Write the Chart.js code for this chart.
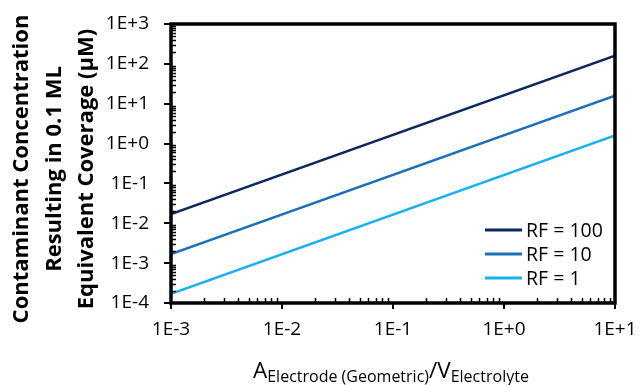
<!DOCTYPE html>
<html>
<head>
<meta charset="utf-8">
<script src="https://cdn.jsdelivr.net/npm/chart.js@4.4.1/dist/chart.umd.min.js"></script>
<style>
  html, body { margin:0; padding:0; background:#fff; }
  #wrap { width:641px; height:385px; position:relative; }
</style>
</head>
<body>
<div id="wrap"><canvas id="rfChart"></canvas></div>
<script>
// area / volume ratio at both ends of each line
const ratio = [1e-3, 1e1];
const rf100 = [0.017, 160];
const rf10  = [0.0017, 16];
const rf1   = [0.00017, 1.6];

const seriesLabels = ['RF = 100', 'RF = 10', 'RF = 1'];
const seriesColors = ['#0e2a5c', '#1b70b9', '#17b2ee'];

const xTicks = [1e-3, 1e-2, 1e-1, 1e0, 1e1];
const yTicks = [1e-4, 1e-3, 1e-2, 1e-1, 1e0, 1e1, 1e2, 1e3];

const yTitle = ['Contaminant Concentration', 'Resulting in 0.1 ML', 'Equivalent Coverage (\u00b5M)'];

const FONT = '"Open Sans", sans-serif';

function toPts(ys){ return ratio.map((x,i) => ({ x:x, y:ys[i] })); }
function sci(v){ return Number(v).toExponential(0).toUpperCase(); }

// frame, log ticks, legend and titles
const decor = {
  id:'decor',
  afterDatasetsDraw(chart){
    const ctx = chart.ctx;
    const a = chart.chartArea;
    const sx = chart.scales.x, sy = chart.scales.y;
    ctx.save();
    ctx.strokeStyle = '#000';

    // minor ticks inside, major ticks outside
    ctx.lineWidth = 1.5;
    ctx.beginPath();
    for (let i = 0; i < xTicks.length - 1; i++){
      for (let k = 2; k <= 9; k++){
        const px = Math.round(sx.getPixelForValue(k * xTicks[i])) + 0.5;
        ctx.moveTo(px, a.bottom); ctx.lineTo(px, a.bottom - 5);
      }
    }
    for (let i = 0; i < yTicks.length - 1; i++){
      for (let k = 2; k <= 9; k++){
        const py = Math.round(sy.getPixelForValue(k * yTicks[i])) + 0.5;
        ctx.moveTo(a.left, py); ctx.lineTo(a.left + 5, py);
      }
    }
    ctx.stroke();

    ctx.lineWidth = 2;
    ctx.beginPath();
    xTicks.forEach(v => {
      const px = Math.round(sx.getPixelForValue(v));
      ctx.moveTo(px, a.bottom); ctx.lineTo(px, a.bottom + 6);
    });
    yTicks.forEach(v => {
      const py = Math.round(sy.getPixelForValue(v));
      ctx.moveTo(a.left - 7, py); ctx.lineTo(a.left, py);
    });
    ctx.stroke();

    ctx.lineWidth = 3.5;
    ctx.strokeRect(a.left, a.top, a.right - a.left, a.bottom - a.top);

    // legend
    ctx.font = '19.5px ' + FONT;
    ctx.textBaseline = 'middle';
    ctx.textAlign = 'left';
    const rows = [230, 254, 278];
    chart.data.datasets.forEach((ds, i) => {
      ctx.strokeStyle = ds.borderColor;
      ctx.lineWidth = 3;
      ctx.beginPath();
      ctx.moveTo(485, rows[i]); ctx.lineTo(522, rows[i]);
      ctx.stroke();
      ctx.fillStyle = '#000';
      ctx.fillText(ds.label, 526, rows[i] + 1);
    });

    // y title
    ctx.save();
    ctx.translate(0, 169);
    ctx.rotate(-Math.PI / 2);
    ctx.font = 'bold 22px ' + FONT;
    ctx.textAlign = 'center';
    ctx.textBaseline = 'middle';
    ctx.fillStyle = '#000';
    const cols = [22, 55, 87];
    yTitle.forEach((t, i) => ctx.fillText(t, 0, cols[i]));
    ctx.restore();

    // x title with subscripts
    const big = '22.5px ' + FONT, small = '16px ' + FONT;
    const base = 378;
    let cx = 253;
    ctx.textAlign = 'left';
    ctx.textBaseline = 'alphabetic';
    const parts = [
      ['A', big, 0], ['Electrode (Geometric)', small, 4],
      ['/V', big, 0], ['Electrolyte', small, 4]
    ];
    parts.forEach(p => {
      ctx.font = p[1];
      ctx.fillText(p[0], cx, base + p[2]);
      cx += ctx.measureText(p[0]).width;
    });
    ctx.restore();
  }
};

new Chart(document.getElementById('rfChart'), {
  type:'line',
  data:{
    datasets:[
      { label:seriesLabels[0], data:toPts(rf100), borderColor:seriesColors[0] },
      { label:seriesLabels[1], data:toPts(rf10),  borderColor:seriesColors[1] },
      { label:seriesLabels[2], data:toPts(rf1),   borderColor:seriesColors[2] }
    ]
  },
  options:{
    responsive:true,
    maintainAspectRatio:false,
    animation:false,
    devicePixelRatio:1,
    layout:{ padding:{ left:0, top:24, right:26, bottom:0 } },
    elements:{
      line:{ borderWidth:2.5, tension:0 },
      point:{ radius:0 }
    },
    plugins:{
      legend:{ display:false },
      tooltip:{ enabled:false }
    },
    scales:{
      x:{
        type:'logarithmic',
        min:1e-3, max:1e1,
        grid:{ display:false, drawTicks:false },
        border:{ display:false },
        afterBuildTicks: s => { s.ticks = xTicks.map(v => ({ value:v })); },
        afterFit: s => { s.height = 82; s.paddingLeft = 0; s.paddingRight = 0; },
        ticks:{
          color:'#000', padding:15, maxRotation:0, autoSkip:false,
          font:{ family:FONT, size:19 },
          callback: v => sci(v)
        }
      },
      y:{
        type:'logarithmic',
        min:1e-4, max:1e3,
        grid:{ display:false, drawTicks:false },
        border:{ display:false },
        afterBuildTicks: s => { s.ticks = yTicks.map(v => ({ value:v })); },
        afterFit: s => { s.width = 171; s.paddingTop = 0; s.paddingBottom = 0; },
        ticks:{
          color:'#000', padding:22, autoSkip:false,
          font:{ family:FONT, size:19 },
          callback: v => sci(v)
        }
      }
    }
  },
  plugins:[decor]
});
</script>
</body>
</html>
